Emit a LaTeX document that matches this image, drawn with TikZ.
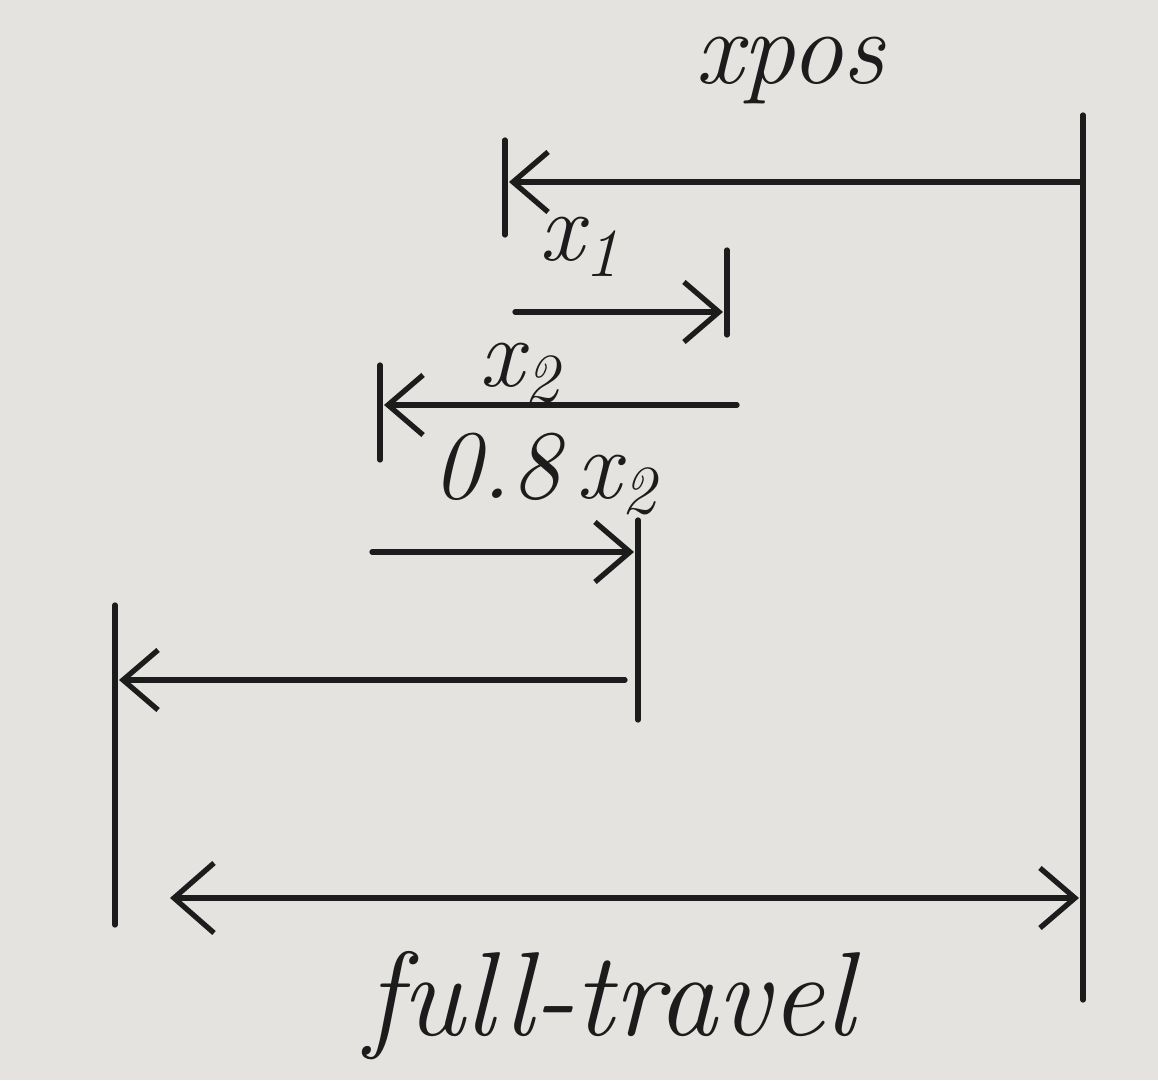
\documentclass[tikz,border=0pt]{standalone}
\usepackage{fontspec}
\usepackage{xcolor}
\usetikzlibrary{arrows.meta}
\definecolor{paper}{RGB}{229,227,224}
\definecolor{ink}{RGB}{28,28,28}

\begin{document}
\begin{tikzpicture}
        \tikzset{stopline/.style={draw=ink,line width=1.5pt,line cap=round},
            dimarrow/.style={draw=ink,line width=1.5pt,line cap=round,
                -{Straight Barb[length=3.5mm,width=6mm,line width=1.5pt]}},
            both/.style={dimarrow,{Straight Barb[length=4mm,width=7mm,line width=1.5pt]}-{Straight Barb[length=3.5mm,width=6mm,line width=1.5pt]}},
            hand/.style={text=ink,inner sep=0pt,font=\fontsize{28}{32}\selectfont\itshape}}
        \fill[paper] (0,0) rectangle (11.58,10.80);
        \useasboundingbox (0,0) rectangle (11.58,10.80);
        % stop lines
        \coordinate (endT) at (10.83,9.65);
        \coordinate (endB) at (10.83,0.80);
        \coordinate (posT) at (5.05,9.40);
        \coordinate (posB) at (5.05,8.45);
        \coordinate (oneT) at (7.27,8.30);
        \coordinate (oneB) at (7.27,7.45);
        \coordinate (twoT) at (3.80,7.15);
        \coordinate (twoB) at (3.80,6.20);
        \coordinate (backT) at (6.38,5.60);
        \coordinate (backB) at (6.38,3.60);
        \coordinate (homeT) at (1.15,4.75);
        \coordinate (homeB) at (1.15,1.55);
        \foreach \s in {end,pos,one,two,back,home}
            \draw[stopline] (\s T) -- (\s B);
        % arrow ends
        \coordinate (posR) at (10.83,8.98);
        \coordinate (posL) at (5.09,8.98);
        \coordinate (oneL) at (5.15,7.68);
        \coordinate (oneR) at (7.23,7.68);
        \coordinate (twoR) at (7.37,6.75);
        \coordinate (twoL) at (3.84,6.75);
        \coordinate (backL) at (3.72,5.28);
        \coordinate (backR) at (6.34,5.28);
        \coordinate (homeR) at (6.25,4.00);
        \coordinate (homeL) at (1.19,4.00);
        \coordinate (fullL) at (1.70,1.82);
        \coordinate (fullR) at (10.79,1.82);
        \draw[dimarrow] (posR) -- (posL);
        \draw[dimarrow] (oneL) -- (oneR);
        \draw[dimarrow] (twoR) -- (twoL);
        \draw[dimarrow] (backL) -- (backR);
        \draw[dimarrow] (homeR) -- (homeL);
        \draw[both] (fullL) -- (fullR);
        % labels
        \node[hand,font=\fontsize{30}{34}\selectfont\itshape] (xpos) at (7.90,10.10) {xpos};
        \node[hand] (xone) at (5.80,8.33) {x\textsubscript{1}};
        \node[hand] (xtwo) at (5.20,7.07) {x\textsubscript{2}};
        \node[hand] (xback) at (5.45,6.06) {0.8\,x\textsubscript{2}};
        \node[hand,font=\fontsize{34}{38}\selectfont\itshape] (full) at (6.10,0.74) {full-travel};
\end{tikzpicture}
\end{document}
